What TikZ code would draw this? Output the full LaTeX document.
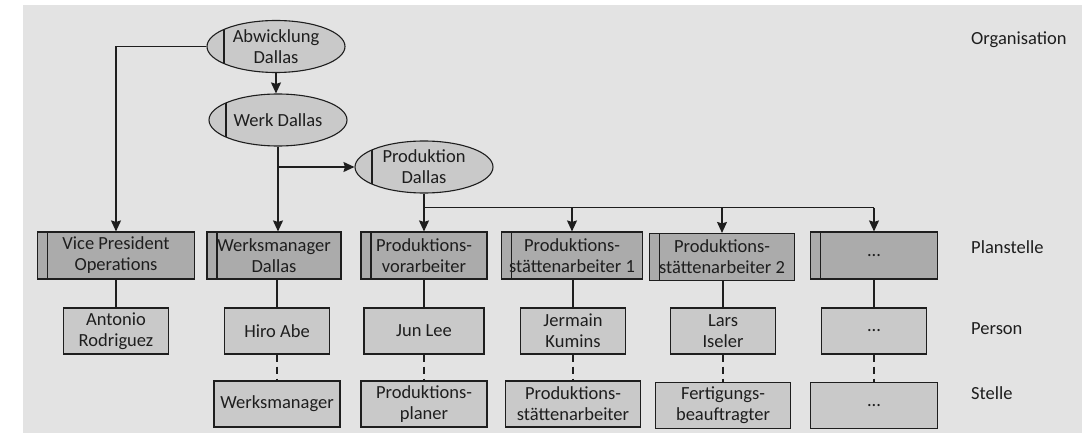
\documentclass[tikz,border=0pt]{standalone}
\usepackage{fontspec}
\setmainfont{Carlito}
\usepackage{tikz}
\usetikzlibrary{shapes.geometric, arrows.meta, positioning, calc}
\definecolor{panelgray}{HTML}{E3E3E3}
\definecolor{boxlight}{HTML}{C9C9C9}
\definecolor{boxdark}{HTML}{ABABAB}
\definecolor{inkgray}{HTML}{1E1E1E}
\tikzset{
  %% Organisation (ellipse with divider)
  orgell/.style={
    ellipse, draw=inkgray, fill=boxlight,
    minimum width=138pt, minimum height=52pt,
    inner sep=0pt, align=center, line width=1.1pt,
    path picture={\draw[inkgray, line width=1.1pt]
      ([xshift=17pt]path picture bounding box.north west) --
      ([xshift=17pt]path picture bounding box.south west);}
  },
  %% Planstelle box with left strip
  planbox/.style={
    rectangle, draw=inkgray, fill=boxdark,
    minimum width=#1, minimum height=47pt,
    inner sep=0pt, align=center, line width=1.1pt,
    path picture={\draw[inkgray, line width=1.1pt]
      ([xshift=10pt]path picture bounding box.north west) --
      ([xshift=10pt]path picture bounding box.south west);}
  },
  planbox/.default=130pt,
  %% Person / Stelle box
  lbox/.style={
    rectangle, draw=inkgray, fill=boxlight,
    minimum width=#1, minimum height=46pt,
    inner sep=0pt, align=center, line width=1.1pt
  },
  lbox/.default=105pt,
  %% Level label
  lvl/.style={anchor=west, inner sep=0pt},
  %% Arrow
  arr/.style={-{Stealth[length=11pt,width=10pt,inset=1.5pt]},
              draw=inkgray, line width=1.5pt},
  conn/.style={draw=inkgray, line width=1.5pt},
  dline/.style={draw=inkgray, line width=1.3pt, dash pattern=on 7pt off 5pt},
}

\begin{document}
\begin{tikzpicture}[x=1pt, y=-1pt,
                    every node/.style={font=\fontsize{18.5}{21}\selectfont, text=inkgray}]

  \useasboundingbox (0,0) rectangle (1089,438);
  \fill[panelgray] (23,5) rectangle (1082,433);

  % organisation
  \node[orgell] (abw)  at (276,46.5) {Abwicklung\\Dallas};
  \node[orgell] (werk) at (278,120)  {Werk Dallas};
  \node[orgell] (prod) at (424,167)  {Produktion\\Dallas};

  % planstellen
  \node[planbox=157pt] (vp)   at (116,255.5) {Vice President\\Operations};
  \node[planbox=134pt] (wm)   at (274,255.5) {Werksmanager\\Dallas};
  \node[planbox=126pt] (pv)   at (424,255.5) {Produktions-\\vorarbeiter};
  \node[planbox=141pt] (psa1) at (572,255.5) {Produktions-\\stättenarbeiter 1};
  \node[planbox=145pt] (psa2) at (722,257)   {Produktions-\\stättenarbeiter 2};
  \node[planbox=127pt] (dots) at (874,255.5) {...};

  % personen
  \node[lbox] (antonio) at (116,331) {Antonio\\Rodriguez};
  \node[lbox] (hiro)    at (277,331) {Hiro Abe};
  \node[lbox=120pt] (jun) at (424,331) {Jun Lee};
  \node[lbox] (jermain) at (573,331) {Jermain\\Kumins};
  \node[lbox] (lars)    at (723,331) {Lars\\Iseler};
  \node[lbox] (pdots)   at (874,331) {...};

  % stellen
  \node[lbox=126pt] (swm)   at (277,404)   {Werksmanager};
  \node[lbox=126pt] (splan) at (424,404)   {Produktions-\\planer};
  \node[lbox=135pt] (spsa)  at (573,404)   {Produktions-\\stättenarbeiter};
  \node[lbox=135pt] (sfert) at (723,405.5) {Fertigungs-\\beauftragter};
  \node[lbox=127pt] (sdots) at (874,405.5) {...};

  % level labels
  \node[lvl] (lorg)  at (971,40)  {Organisation};
  \node[lvl] (lplan) at (971,247) {Planstelle};
  \node[lvl] (lpers) at (971,329) {Person};
  \node[lvl] (lst)   at (971,393) {Stelle};

  % connectors
  \draw[arr] (abw.south) -- (abw.south |- werk.north);
  \draw[arr] (abw.west) -| (vp.north);
  \draw[arr] (werk.south) -- (werk.south |- wm.north);
  \coordinate (fork) at (werk.south |- prod.west);
  \draw[arr] (fork) -- (prod.west);
  \coordinate (bus) at ($(prod.south)+(0,14)$);
  \draw[conn] (prod.south) -- (bus) -- (bus -| dots.north);
  \foreach \n in {pv, psa1, psa2, dots}
    \draw[arr] (bus -| \n.north) -- (\n.north);

  \foreach \a/\b in {vp/antonio, wm/hiro, pv/jun, psa1/jermain, psa2/lars, dots/pdots}
    \draw[conn, line width=1.3pt] (\b.north |- \a.south) -- (\b.north);
  \foreach \b/\c in {hiro/swm, jun/splan, jermain/spsa, lars/sfert, pdots/sdots}
    \draw[dline] (\b.south) -- (\b.south |- \c.north);

\end{tikzpicture}
\end{document}
